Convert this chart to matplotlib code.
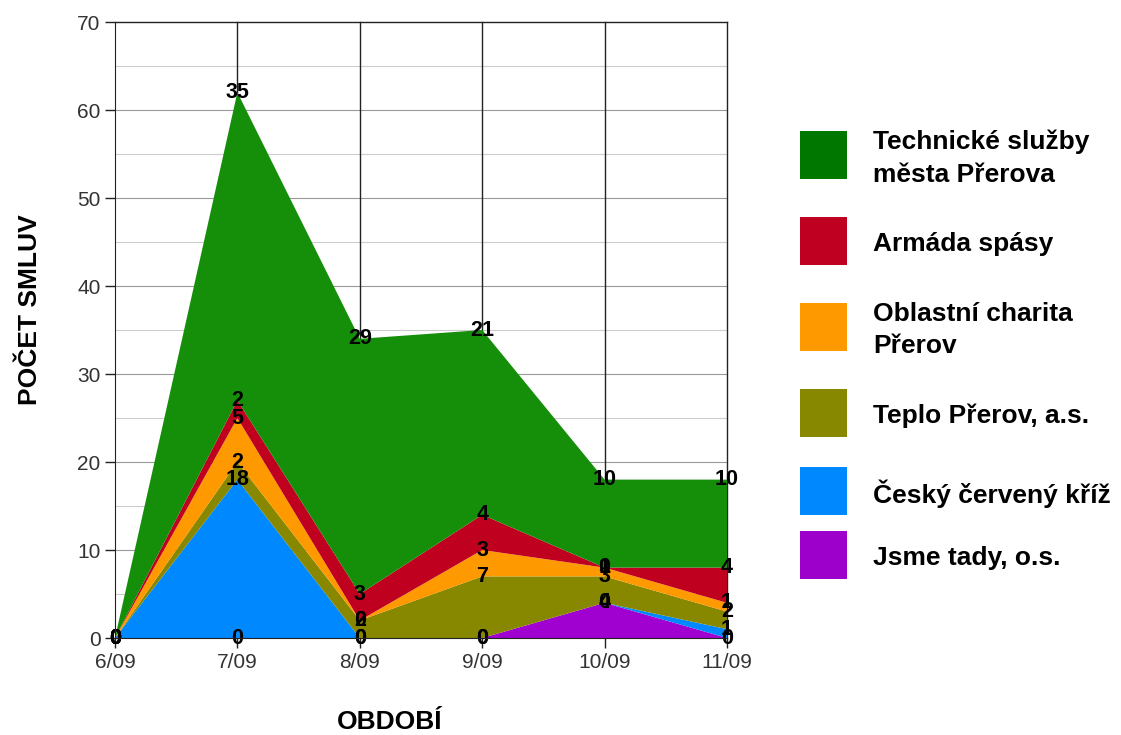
import matplotlib
matplotlib.use("Agg")
import matplotlib.pyplot as plt
import numpy as np
from matplotlib.patches import Rectangle

plt.rcParams['font.family'] = ['Liberation Sans', 'DejaVu Sans']

# data, bottom series first
periods = ["6/09", "7/09", "8/09", "9/09", "10/09", "11/09"]
series_names = ["Jsme tady, o.s.", "Český červený kříž", "Teplo Přerov, a.s.",
                "Oblastní charita\nPřerov", "Armáda spásy", "Technické služby\nměsta Přerova"]
jsme_tady = [0, 0, 0, 0, 4, 0]
cerveny_kriz = [0, 18, 0, 0, 0, 1]
teplo = [0, 2, 2, 7, 3, 2]
charita = [0, 5, 0, 3, 1, 1]
armada = [0, 2, 3, 4, 0, 4]
technicke = [0, 35, 29, 21, 10, 10]

area_colors = ["#a000d0", "#0088ff", "#888800", "#ff9900", "#c0001f", "#158e0a"]
legend_colors = ["#9e00cc", "#0088ff", "#888800", "#ff9900", "#c00020", "#007800"]

values = [jsme_tady, cerveny_kriz, teplo, charita, armada, technicke]

fig = plt.figure(figsize=(11.21, 7.35), dpi=100)
ax = fig.add_axes([115 / 1121, 1 - 638 / 735, (727 - 115) / 1121, (638 - 22) / 735])

x = np.arange(len(periods))
ax.set_xlim(0, len(periods) - 1)
ax.set_ylim(0, 70)

# grid
for y in range(5, 70, 10):
    ax.axhline(y, color="#cccccc", lw=0.8, zorder=0)
for y in range(10, 70, 10):
    ax.axhline(y, color="#999999", lw=0.8, zorder=0)
for xi in x[1:]:
    ax.axvline(xi, color="#222222", lw=1.0, zorder=0, clip_on=False)
ax.axhline(70, color="#222222", lw=1.0, zorder=0, clip_on=False)

ax.stackplot(x, *values, colors=area_colors, zorder=1, linewidth=0)

# value labels at top of each layer
cum = np.zeros(len(periods))
for vals in values:
    cum = cum + np.array(vals)
    for xi, v, c in zip(x, vals, cum):
        ax.text(xi, c, str(v), ha="center", va="center", fontsize=15.5,
                fontweight="bold", color="black", zorder=3, clip_on=False)

ax.set_xticks(x)
ax.set_xticklabels(periods)
ax.set_yticks(range(0, 71, 10))
ax.tick_params(axis="both", labelsize=15, colors="#222222", length=7, width=1,
               labelcolor="#333333")
for side in ["top", "right"]:
    ax.spines[side].set_visible(False)
ax.spines["left"].set_color("#222222")
ax.spines["bottom"].set_color("#222222")
ax.spines["left"].set_zorder(4)
ax.spines["bottom"].set_zorder(4)

fig.text(30 / 1121, 1 - 310 / 735, "POČET SMLUV", rotation=90, ha="center", va="center",
         fontsize=19, fontweight="bold")
fig.text(390 / 1121, 1 - 722 / 735, "OBDOBÍ", ha="center", va="center",
         fontsize=19, fontweight="bold")

# legend, top entry first
legend_y = [155, 241, 327, 413, 491, 555]
for name, col, yc in zip(series_names[::-1], legend_colors[::-1], legend_y):
    fig.patches.append(Rectangle((800 / 1121, 1 - (yc + 24) / 735), 47 / 1121, 48 / 735,
                                 transform=fig.transFigure, facecolor=col, edgecolor="none"))
    fig.text(873 / 1121, 1 - (yc + 3) / 735, name, ha="left", va="center", fontsize=19,
             fontweight="bold", linespacing=1.45)

fig.savefig("out.png", dpi=100)
